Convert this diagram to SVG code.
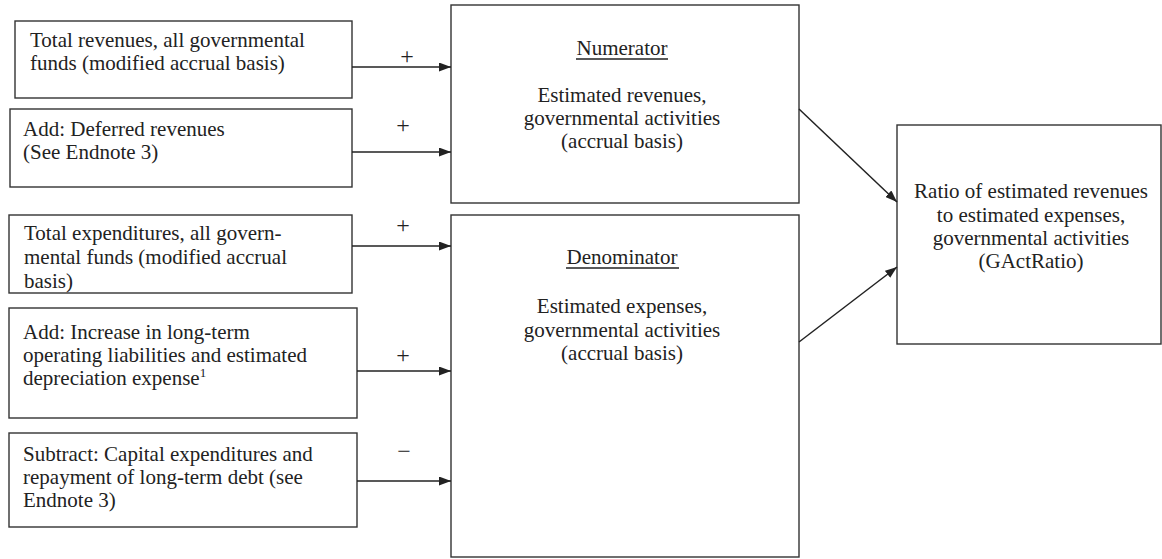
<svg xmlns="http://www.w3.org/2000/svg" width="1162" height="559" viewBox="0 0 1162 559">
<style>
.box{fill:#fff;stroke:#333;stroke-width:1.4}
.t{font-family:"Liberation Serif","Times New Roman",serif;font-size:21px;fill:#222}
.c{text-anchor:middle}
.s{font-family:"Liberation Serif","Times New Roman",serif;font-size:24px;fill:#222;text-anchor:middle}
.ln{stroke:#222;stroke-width:1.5;fill:none}
.ul{stroke:#222;stroke-width:1.5}
</style>
<defs>
<marker id="ah" viewBox="0 0 12 9" refX="12" refY="4.5" markerWidth="12" markerHeight="9" markerUnits="userSpaceOnUse" orient="auto">
<path d="M0,0 L12,4.5 L0,9 Z" fill="#222"/>
</marker>
</defs>
<rect width="1162" height="559" fill="#fff"/>
<g id="n1">
<rect class="box" x="15" y="21" width="337" height="77"/>
<text class="t" x="30" y="47">Total revenues, all governmental</text>
<text class="t" x="30" y="70">funds (modified accrual basis)</text>
</g>
<g id="n2">
<rect class="box" x="10" y="109" width="342" height="78"/>
<text class="t" x="23" y="136">Add: Deferred revenues</text>
<text class="t" x="23" y="159">(See Endnote 3)</text>
</g>
<g id="n3">
<rect class="box" x="9" y="215" width="343" height="78"/>
<text class="t" x="24" y="240">Total expenditures, all govern-</text>
<text class="t" x="24" y="264">mental funds (modified accrual</text>
<text class="t" x="24" y="288">basis)</text>
</g>
<g id="n4">
<rect class="box" x="9" y="308" width="348" height="110"/>
<text class="t" x="23" y="339">Add: Increase in long-term</text>
<text class="t" x="23" y="362">operating liabilities and estimated</text>
<text class="t" x="23" y="385">depreciation expense<tspan font-size="13" dy="-8">1</tspan></text>
</g>
<g id="n5">
<rect class="box" x="9" y="433" width="348" height="94"/>
<text class="t" x="23" y="461">Subtract: Capital expenditures and</text>
<text class="t" x="23" y="484">repayment of long-term debt (see</text>
<text class="t" x="23" y="507">Endnote 3)</text>
</g>
<g id="num">
<rect class="box" x="451" y="5" width="348" height="198"/>
<text class="t c" x="622" y="55">Numerator</text>
<line class="ul" x1="576" y1="59" x2="668" y2="59"/>
<text class="t c" x="622" y="102">Estimated revenues,</text>
<text class="t c" x="622" y="125">governmental activities</text>
<text class="t c" x="622" y="148">(accrual basis)</text>
</g>
<g id="den">
<rect class="box" x="451" y="215" width="348" height="342"/>
<text class="t c" x="622" y="264">Denominator</text>
<line class="ul" x1="566" y1="268" x2="679" y2="268"/>
<text class="t c" x="622" y="313">Estimated expenses,</text>
<text class="t c" x="622" y="337">governmental activities</text>
<text class="t c" x="622" y="360">(accrual basis)</text>
</g>
<g id="ratio">
<rect class="box" x="897" y="125" width="264" height="219"/>
<text class="t c" x="1031" y="198">Ratio of estimated revenues</text>
<text class="t c" x="1031" y="222">to estimated expenses,</text>
<text class="t c" x="1031" y="245">governmental activities</text>
<text class="t c" x="1031" y="268">(GActRatio)</text>
</g>
<g id="connectors">
<line class="ln" x1="352" y1="67" x2="451" y2="67" marker-end="url(#ah)"/>
<line class="ln" x1="352" y1="152" x2="451" y2="152" marker-end="url(#ah)"/>
<line class="ln" x1="352" y1="246" x2="451" y2="246" marker-end="url(#ah)"/>
<line class="ln" x1="357" y1="371" x2="451" y2="371" marker-end="url(#ah)"/>
<line class="ln" x1="357" y1="481" x2="451" y2="481" marker-end="url(#ah)"/>
<line class="ln" x1="799" y1="109" x2="897" y2="202" marker-end="url(#ah)"/>
<line class="ln" x1="799" y1="342" x2="897" y2="267" marker-end="url(#ah)"/>
<text class="s" x="407" y="64">+</text>
<text class="s" x="403" y="133">+</text>
<text class="s" x="403" y="233">+</text>
<text class="s" x="403" y="363">+</text>
<text class="s" x="404" y="459">−</text>
</g>
</svg>
